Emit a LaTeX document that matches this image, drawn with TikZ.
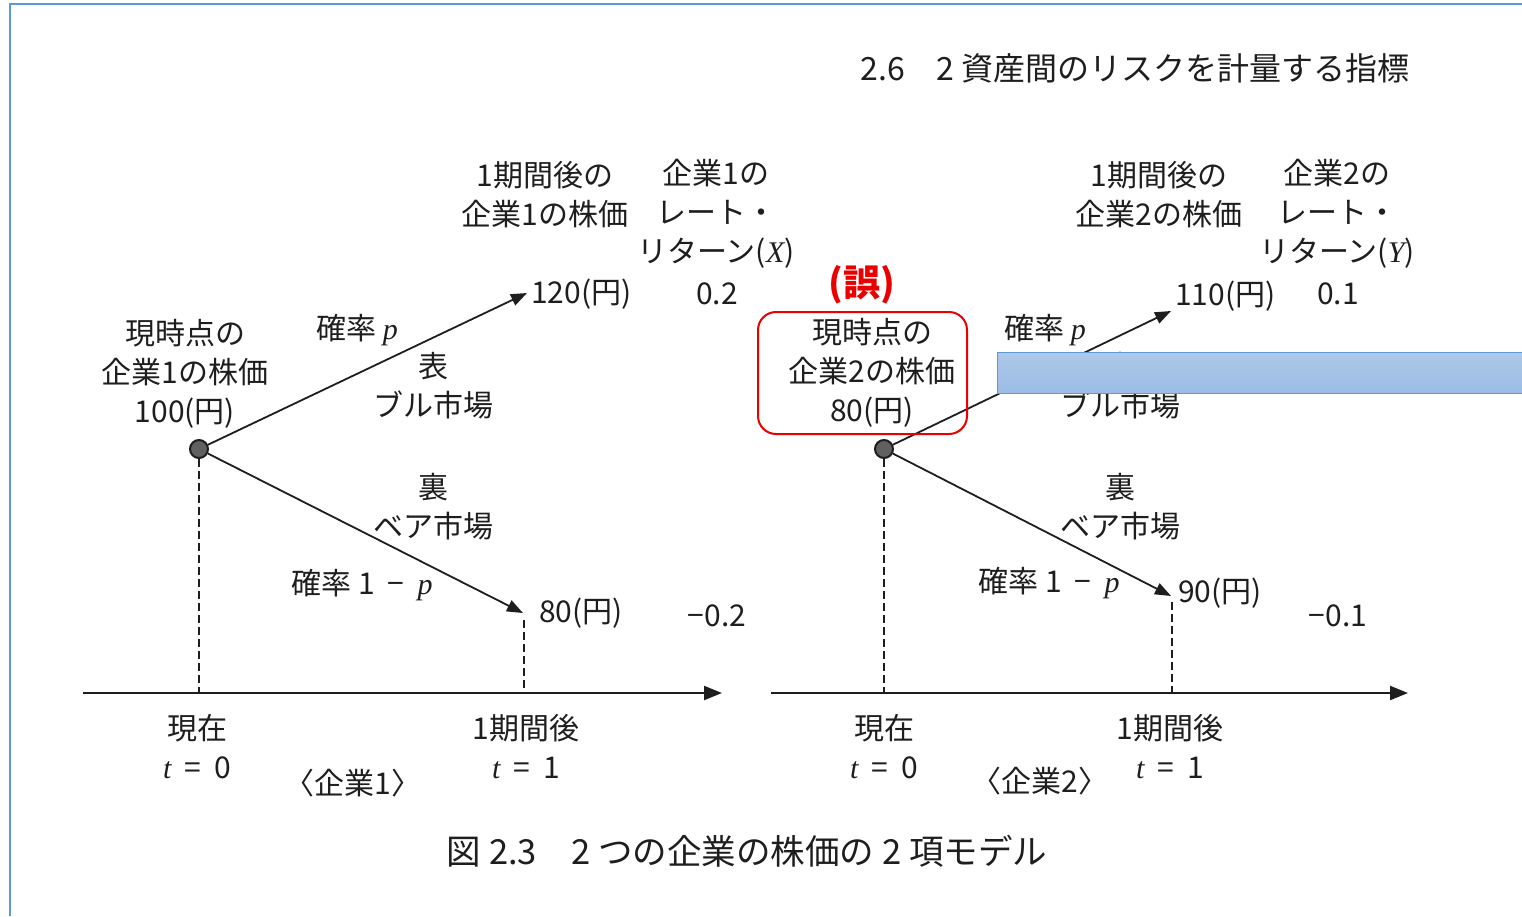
\documentclass[tikz,border=0pt]{standalone}
\usepackage{fontspec}
\setmainfont{Noto Sans CJK JP}
\newfontfamily\serifit{Liberation Serif}
\newcommand{\vi}[1]{{\serifit\itshape #1}}
\newcommand{\gapsp}{\hspace{13pt}}
\usetikzlibrary{arrows.meta}
\definecolor{frameblue}{RGB}{91,155,213}
\definecolor{txt}{RGB}{30,30,30}
\definecolor{errred}{RGB}{235,0,0}
\definecolor{boxtop}{RGB}{173,200,232}
\definecolor{boxbot}{RGB}{155,189,230}
\begin{document}
\begin{tikzpicture}[x=1pt,y=-1pt,
  lbl/.style={font=\fontsize{30}{39}\selectfont, text=txt, align=center, inner sep=0pt},
  branch/.style={line width=1.8pt, draw=txt, -{Triangle[length=16pt,width=12pt]}},
  guide/.style={line width=1.5pt, draw=txt, dash pattern=on 8pt off 4pt},
  axisline/.style={line width=2.2pt, draw=txt, -{Triangle[length=18pt,width=14pt]}},
  rootdot/.style={circle, minimum size=18pt, inner sep=0pt, fill=gray!75!black, draw=txt, line width=2pt},
]
\useasboundingbox (0,0) rectangle (1522,916);
\draw[frameblue, line width=2.5pt] (10,916) -- (10,4) -- (1522,4);

% header
\node[lbl, anchor=east, font=\fontsize{32}{36}\selectfont] (hdr) at (1410,68) {2.6\quad 2 資産間のリスクを計量する指標};

% ---------- tree 1 ----------
\node[rootdot] (r1) at (199,449) {};
\coordinate (u1) at (527,293);
\coordinate (d1) at (523,613);
\coordinate (d1b) at (524,620);
\coordinate (a1) at (199,693);
\coordinate (b1) at (524,693);
\coordinate (ax1s) at (83,693);
\coordinate (ax1e) at (722,693);
\draw[guide] (r1.south) -- (a1);
\draw[guide] (d1b) -- (b1);
\draw[axisline] (ax1s) -- (ax1e);
\draw[branch] (r1) -- (u1);
\draw[branch] (r1) -- (d1);

\node[lbl] (now1) at (185,374) {現時点の\\企業1の株価\\100(円)};
\node[lbl] (pu1) at (357,330) {確率 \vi{p}};
\node[lbl] (bull1) at (433,386) {表\\ブル市場};
\node[lbl] (bear1) at (433,507) {裏\\ベア市場};
\node[lbl] (pd1) at (362,585) {確率 1\gapsp−\gapsp\vi{p}};
\node[lbl, anchor=west] (v1u) at (531,294) {120(円)};
\node[lbl, anchor=west] (v1d) at (539,613) {80(円)};
\node[lbl] (r1u) at (717,294) {0.2};
\node[lbl] (r1d) at (717,616) {−0.2};
\node[lbl] (h1a) at (545,195) {1期間後の\\企業1の株価};
\node[lbl] (h1b) at (716,214) {企業1の\\レート・\\リターン(\vi{X})};
\node[lbl] (t10) at (197,747) {現在\\\vi{t}\gapsp=\gapsp0};
\node[lbl] (t11) at (526,747) {1期間後\\\vi{t}\gapsp=\gapsp1};
\node[lbl] (c1) at (353,783) {〈企業1〉};

% ---------- tree 2 ----------
\node[rootdot] (r2) at (884,449) {};
\coordinate (u2) at (1171,311);
\coordinate (d2) at (1171,596);
\coordinate (d2b) at (1172,602);
\coordinate (a2) at (884,693);
\coordinate (b2) at (1172,693);
\coordinate (ax2s) at (771,693);
\coordinate (ax2e) at (1408,693);
\draw[guide] (r2.south) -- (a2);
\draw[guide] (d2b) -- (b2);
\draw[axisline] (ax2s) -- (ax2e);
\draw[branch] (r2) -- (u2);
\draw[branch] (r2) -- (d2);

\node[lbl] (now2) at (872,373) {現時点の\\企業2の株価\\80(円)};
\node[lbl] (pu2) at (1045,330) {確率 \vi{p}};
\node[lbl] (bull2) at (1120,386) {表\\ブル市場};
\node[lbl] (bear2) at (1120,507) {裏\\ベア市場};
\node[lbl] (pd2) at (1049,583) {確率 1\gapsp−\gapsp\vi{p}};
\node[lbl, anchor=west] (v2u) at (1175,296) {110(円)};
\node[lbl, anchor=west] (v2d) at (1178,593) {90(円)};
\node[lbl] (r2u) at (1338,294) {0.1};
\node[lbl] (r2d) at (1338,616) {−0.1};
\node[lbl] (h2a) at (1159,195) {1期間後の\\企業2の株価};
\node[lbl] (h2b) at (1337,214) {企業2の\\レート・\\リターン(\vi{Y})};
\node[lbl] (t20) at (884,747) {現在\\\vi{t}\gapsp=\gapsp0};
\node[lbl] (t21) at (1170,747) {1期間後\\\vi{t}\gapsp=\gapsp1};
\node[lbl] (c2) at (1040,781) {〈企業2〉};

% overlay rectangle
\path[draw=frameblue, line width=1pt, top color=boxtop, bottom color=boxbot] (997,352) rectangle (1526,393);

% error mark
\node[draw=errred, line width=2pt, rounded corners=18pt, minimum width=209pt, minimum height=122pt] (errbox) at (862.5,373) {};
\node[text=errred, font=\fontsize{37}{40}\selectfont\bfseries, inner sep=0pt] (err) at (862,285) {(誤)};

% caption
\node[lbl, font=\fontsize{34.5}{40}\selectfont] (cap) at (747,851) {図 2.3\quad 2 つの企業の株価の 2 項モデル};
\end{tikzpicture}
\end{document}
